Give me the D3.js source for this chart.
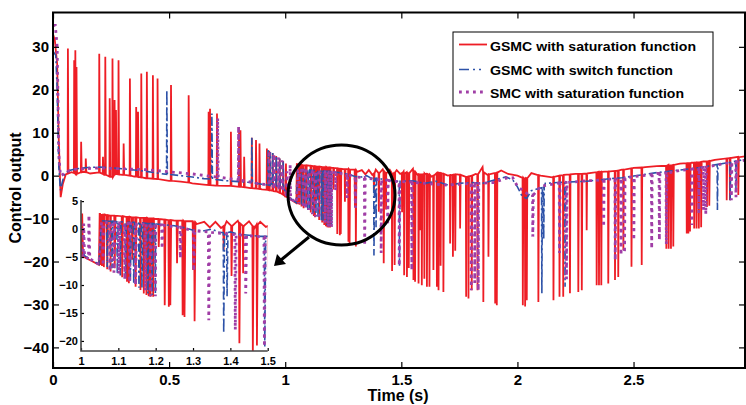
<!DOCTYPE html>
<html><head><meta charset="utf-8">
<script src="https://cdn.jsdelivr.net/npm/d3@7"></script>
<style>body{margin:0;background:#fff}svg{display:block}</style>
</head><body><svg id="c" width="746" height="405"></svg>
<script>
// ---------- data ----------
const xTicks = [0, 0.5, 1, 1.5, 2, 2.5];
const yTicks = [30, 20, 10, 0, -10, -20, -30, -40];
const insetXTicks = [1, 1.1, 1.2, 1.3, 1.4, 1.5];
const insetYTicks = [5, 0, -5, -10, -15, -20];
const seriesNames = ["GSMC with saturation function", "GSMC with switch function", "SMC with saturation function"];
const xLabel = "Time (s)";
const yLabel = "Control output";

// baseline samples [t, value]
const redBase = [[0,33],[0.008,31.5],[0.018,26],[0.025,8],[0.033,-5],[0.042,-2],[0.055,0.3],[0.08,0.8],[0.1,0.4],[0.13,0.9],[0.16,0.5],[0.19,0.7],[0.22,0.2],[0.25,-0.3],[0.27,0.5],[0.3,0.2],[0.35,-0.2],[0.4,-0.6],[0.45,-0.8],[0.5,-1.2],[0.55,-1.4],[0.6,-1.8],[0.65,-2.1],[0.7,-2.3],[0.75,-2.4],[0.8,-2.6],[0.85,-2.9],[0.9,-3.2],[0.95,-3.6],[1.0,-4.9],[1.048,-6.4],[1.05,2.7],[1.08,2.4],[1.12,2.2],[1.16,2.0],[1.2,1.8],[1.25,1.5],[1.29,1.4],[1.31,0.9],[1.33,1.3],[1.345,0.3],[1.36,1.3],[1.375,0.2],[1.39,1.4],[1.405,0.4],[1.42,1.5],[1.435,0.3],[1.45,1.4],[1.465,0.2],[1.48,1.3],[1.495,0.4],[1.51,1.0],[1.53,0.3],[1.55,1.6],[1.57,0.2],[1.6,0.5],[1.63,-0.2],[1.66,0.8],[1.7,0.0],[1.74,0.3],[1.78,-0.4],[1.82,0.4],[1.85,2.0],[1.87,0.2],[1.9,0.6],[1.93,1.2],[1.96,0.4],[2.0,0.0],[2.03,-0.8],[2.06,0.6],[2.1,0.0],[2.15,-0.4],[2.2,0.2],[2.25,0.4],[2.3,0.6],[2.35,0.9],[2.4,1.0],[2.45,1.4],[2.5,1.8],[2.55,2.0],[2.6,2.2],[2.65,2.5],[2.7,2.8],[2.75,3.0],[2.8,3.3],[2.85,3.7],[2.9,4.0],[2.95,4.4],[2.98,4.5]];
// spikes [t, base, tip]
const redSpikes = [[0.063,0.5,29.6],[0.090,0.6,26.9],[0.095,0.5,29.2],[0.100,0.4,25.3],[0.120,0.8,7.9],[0.140,0.8,4.0],[0.198,0.7,28.4],[0.214,0.4,4.4],[0.224,0.2,27.7],[0.243,-0.2,18.0],[0.255,-0.3,27.3],[0.264,0.2,17.6],[0.270,0.4,15.3],[0.281,0.3,26.9],[0.303,0.2,7.5],[0.330,0.0,22.6],[0.357,-0.2,16.0],[0.365,-0.3,14.9],[0.379,-0.4,23.8],[0.403,-0.6,24.2],[0.429,-0.7,23.4],[0.449,-0.8,22.6],[0.507,-1.2,21.1],[0.583,-1.6,18.7],[0.669,-2.2,14.9],[0.675,-2.2,15.6],[0.705,-2.3,14.5],[0.765,-2.4,10.2],[0.800,-2.6,11.0],[0.806,-2.6,10.6],[0.822,-2.7,4.4],[0.855,-2.9,8.8],[0.873,-3.0,8.3],[0.888,-3.1,7.5],[0.92,-3.3,6.3],[0.93,-3.4,5.8],[0.945,-3.5,5.2],[0.96,-3.7,4.6],[0.975,-4.0,4.0],[0.99,-4.4,3.4],[1.002,-4.9,2.8],
[1.051,2.7,-6.4],[1.055,2.6,-6.6],[1.06,2.6,-6.8],[1.069,2.5,-7.2],[1.078,2.4,-7.6],[1.089,2.4,-7.0],[1.109,2.3,-8.6],[1.122,2.2,-9.4],[1.127,2.2,-9.7],[1.136,2.1,-5.5],[1.145,2.1,-10.3],[1.158,2.0,-10.9],[1.167,2.0,-11.5],[1.174,2.0,-11.8],[1.18,1.9,-12.0],[1.185,1.9,-12.1],[1.192,1.9,-12.1],[1.207,1.8,-3.2],[1.223,1.7,-13.6],[1.234,1.6,-13.9],[1.238,1.6,-13.6],[1.256,1.5,-6.1],[1.271,1.5,-15.4],[1.276,1.4,-15.7],[1.299,1.4,-7.3],[1.303,1.2,-16.5],[1.381,0.5,-3.75],[1.402,0.6,-8.4],[1.423,1.0,-20.4],[1.433,0.6,-7.9],[1.459,0.6,-22.2],[1.47,0.8,-20.8],[1.502,0.6,-8.5],
[1.511,0.5,-23.2],[1.523,0.8,-23.6],[1.531,0.6,-21.5],[1.551,1.0,-24.3],[1.558,0.8,-24.7],[1.573,0.3,-25.1],[1.58,0.3,-12.7],[1.587,0.3,-25.5],[1.598,0.4,-24.0],[1.609,0.4,-25.9],[1.62,0.2,-25.9],[1.637,0.0,-22.0],[1.652,0.6,-25.9],[1.659,0.7,-26.7],[1.668,0.6,-21.0],[1.68,0.4,-27.1],[1.709,0.1,-15.8],[1.721,0.2,-18.9],[1.731,0.3,-17.5],[1.752,0.2,-12.3],[1.778,-0.3,-28.2],[1.788,-0.2,-28.6],[1.802,0.0,-26.7],[1.827,0.3,-26.7],[1.852,0.8,-29.4],[1.874,0.3,-18.9],[1.903,0.6,-29.8],[1.91,0.7,-30.2],[2.022,-0.5,-30.2],[2.032,-0.7,-30.5],[2.039,-0.6,-29.0],[2.089,0.1,-29.4],[2.154,-0.3,-29.0],[2.18,0.0,-28.2],[2.196,0.1,-28.2],[2.225,0.3,-27.4],[2.261,0.4,-27.1],[2.276,0.4,-26.7],[2.297,0.5,-12.7],[2.34,0.8,-25.5],[2.35,0.8,-25.5],[2.36,0.9,-25.5],[2.39,1.0,-25.1],[2.419,1.1,-24.3],[2.433,1.2,-23.6],[2.455,1.4,-17.3],[2.49,1.7,-21.2],[2.534,1.9,-20.8],[2.64,2.3,-17.0],[2.65,2.4,-17.0],[2.66,2.4,-17.0],[2.67,2.5,-16.5],[2.728,2.9,-13.5],[2.735,2.9,-13.5],[2.742,2.9,-13.0],[2.76,3.0,-12.3],[2.77,3.1,-12.3],[2.78,3.1,-12.3],[2.79,3.2,-12.0],[2.815,3.3,-7.3],[2.825,3.4,-7.0],[2.9,4.0,-5.7],[2.914,4.1,-5.7],[2.95,4.3,-4.5]];

const blueBase = [[0,29],[0.012,28],[0.018,20],[0.025,2],[0.032,-3.4],[0.04,-1.5],[0.05,0.5],[0.07,1.2],[0.1,1.6],[0.15,1.9],[0.2,2.0],[0.25,1.8],[0.3,1.6],[0.35,1.3],[0.4,1.0],[0.45,0.6],[0.5,0.3],[0.55,0.0],[0.6,-0.3],[0.65,-0.7],[0.7,-0.9],[0.75,-1.2],[0.8,-1.4],[0.85,-1.6],[0.9,-2.0],[0.95,-2.6],[1.0,-3.5],[1.01,-4.8],[1.048,-6.3],[1.055,1.5],[1.1,1.3],[1.15,1.1],[1.2,0.9],[1.25,0.6],[1.28,0.2],[1.3,-0.2],[1.33,-0.3],[1.35,0.0],[1.37,-0.6],[1.4,-0.5],[1.42,-0.9],[1.45,-1.1],[1.48,-1.3],[1.5,-1.3],[1.55,-1.2],[1.6,-1.8],[1.65,-1.3],[1.7,-2.2],[1.75,-1.8],[1.8,-1.6],[1.85,-1.8],[1.9,-1.0],[1.95,-0.3],[1.98,-1.0],[2.0,-2.6],[2.02,-4.8],[2.04,-5.3],[2.06,-3.5],[2.09,-3.0],[2.12,-1.8],[2.2,-1.5],[2.3,-1.3],[2.4,-0.7],[2.45,-0.5],[2.5,-0.1],[2.55,0.3],[2.6,0.7],[2.7,1.3],[2.8,2.0],[2.9,3.0],[2.98,3.8]];
const blueSpikes = [[0.489,0.3,19.9],[0.683,-0.8,14.5],[0.855,-1.6,8.8],[0.925,-2.2,6.0],[0.935,-2.3,5.5],[0.945,-2.4,5.3],[0.96,-2.6,4.6],[0.975,-2.8,4.0],[0.99,-3.0,3.4],
[1.069,1.4,-6.8],[1.082,1.4,-7.0],[1.096,1.3,-8.0],[1.104,1.3,-8.3],[1.118,1.2,-8.8],[1.131,1.2,-9.5],[1.14,1.2,-9.8],[1.154,1.1,-10.5],[1.162,1.1,-10.5],[1.178,1.0,-11.5],[1.189,1.0,-11.8],[1.198,0.9,-11.5],[1.381,-0.6,-18.6],[1.39,-0.6,-12.0],[1.491,-1.3,-21.0],
[2.104,-2.8,-27.4],[2.112,-2.6,-14.8],[2.204,-1.5,-25.9],[2.86,2.6,-8.0],[2.915,3.1,-5.7],[2.94,3.4,-3.5]];

const purpleBase = [[0,35],[0.01,35],[0.018,30],[0.025,5],[0.032,0.0],[0.04,0.2],[0.06,1.0],[0.1,1.5],[0.2,1.8],[0.3,1.6],[0.4,1.4],[0.5,0.9],[0.6,0.4],[0.7,-0.3],[0.8,-1.0],[0.9,-2.0],[1.0,-3.5],[1.01,-4.9],[1.048,-6.3],[1.055,1.2],[1.1,1.1],[1.2,0.8],[1.25,0.4],[1.3,-0.3],[1.35,-0.6],[1.4,-0.9],[1.45,-1.2],[1.5,-1.4],[1.6,-1.8],[1.7,-2.2],[1.8,-1.8],[1.9,-1.6],[1.95,-0.6],[1.98,-0.5],[2.0,-2.5],[2.05,-4.5],[2.1,-2.5],[2.2,-1.5],[2.3,-1.2],[2.4,-0.8],[2.5,-0.2],[2.6,0.5],[2.7,1.2],[2.8,1.9],[2.9,2.9],[2.98,3.6]];
const purpleSpikes = [[0.708,-0.3,13.4],[0.798,-1.0,11.5],[0.93,-2.1,5.8],[0.95,-2.5,5.0],[0.97,-2.8,4.3],[0.985,-2.9,3.6],
[1.006,-4.9,1.0],[1.02,-5.3,2.5],[1.058,1.2,-6.5],[1.076,1.2,-7.5],[1.087,1.1,-7.8],[1.1,1.1,-8.0],[1.116,1.0,-9.0],[1.129,1.0,-9.5],[1.145,0.9,-10.0],[1.171,0.9,-11.0],[1.185,0.8,-12.0],[1.198,0.8,-12.0],[1.216,0.7,-3.5],[1.265,0.3,-5.2],[1.301,-0.3,-7.5],[1.341,-0.5,-16.3],[1.412,-1.0,-18.0],[1.44,-1.1,-11.5],[1.49,-1.4,-21.0],
[1.544,-1.5,-22.0],[1.80,-1.8,-26.7],[1.815,-1.8,-25.0],[1.83,-1.8,-26.7],[2.065,-4.5,-14.2],[2.18,-1.7,-18.0],[2.21,-1.6,-24.1],[2.37,-1.0,-11.9],[2.42,-0.8,-19.7],[2.445,-0.7,-18.5],[2.46,-0.6,-18.0],[2.5,-0.2,-15.0],[2.577,0.2,-17.0],[2.61,0.5,-15.0],[2.64,0.6,-16.0],[2.75,1.5,-11.5],[2.78,1.7,-8.7],[2.8,1.9,-8.0],[2.81,2.0,-9.0],[2.92,3.0,-5.7],[2.94,3.2,-5.0]];

// ---------- rendering ----------
const svg = d3.select("#c");
const FONT = "'Liberation Sans', Arial, Helvetica, sans-serif";

function buildPoints(base, spikes) {
  const pts = base.map(d => ({t: d[0], v: d[1]}));
  spikes.forEach(s => {
    pts.push({t: s[0], v: s[1]}, {t: s[0] + 0.0012, v: s[2]}, {t: s[0] + 0.0035, v: s[1]});
  });
  pts.sort((a, b) => a.t - b.t);
  return pts;
}
const series = [
  {name: seriesNames[0], pts: buildPoints(redBase, redSpikes), color: "#ee1d25", width: 1.8, dash: null},
  {name: seriesNames[1], pts: buildPoints(blueBase, blueSpikes), color: "#2d52a8", width: 1.6, dash: "8,3,2,3"},
  {name: seriesNames[2], pts: buildPoints(purpleBase, purpleSpikes), color: "#a03ea6", width: 2.8, dash: "2.8,4.2"}
];

// main axes
const L = 53, R = 745, T = 12.5, B = 368;
const x = d3.scaleLinear().domain([0, 2.98]).range([L, R]);
const y = d3.scaleLinear().domain([-44.8, 38]).range([B, T]);

svg.append("defs").append("clipPath").attr("id", "mainclip")
  .append("rect").attr("x", L).attr("y", T).attr("width", R - L).attr("height", B - T);
svg.select("defs").append("clipPath").attr("id", "insetclip")
  .append("rect").attr("id", "icr");

const gData = svg.append("g").attr("clip-path", "url(#mainclip)");
const line = d3.line().x(d => x(d.t)).y(d => y(d.v));
series.forEach(s => {
  gData.append("path").attr("d", line(s.pts)).attr("fill", "none")
    .attr("stroke", s.color).attr("stroke-width", s.width)
    .attr("stroke-dasharray", s.dash).attr("stroke-linejoin", "miter");
});

function styleAxis(g, fs) {
  g.select(".domain").remove();
  g.selectAll("line").attr("stroke", "#000").attr("stroke-width", 1.2);
  g.selectAll("text").attr("font-family", FONT).attr("font-weight", "bold")
    .attr("font-size", fs).attr("fill", "#000");
}
styleAxis(svg.append("g").attr("transform", `translate(${L},0)`)
  .call(d3.axisLeft(y).tickValues(yTicks).tickSizeInner(-6).tickSizeOuter(0).tickPadding(4)), 15);
styleAxis(svg.append("g").attr("transform", `translate(${R},0)`)
  .call(d3.axisRight(y).tickValues(yTicks).tickSizeInner(-6).tickSizeOuter(0).tickFormat("")), 15);
styleAxis(svg.append("g").attr("transform", `translate(0,${B})`)
  .call(d3.axisBottom(x).tickValues(xTicks).tickSizeInner(-6).tickSizeOuter(0).tickPadding(6).tickFormat(d3.format("~g"))), 15);
styleAxis(svg.append("g").attr("transform", `translate(0,${T})`)
  .call(d3.axisTop(x).tickValues(xTicks).tickSizeInner(-6).tickSizeOuter(0).tickFormat("")), 15);

svg.append("rect").attr("x", L).attr("y", T).attr("width", R - L).attr("height", B - T)
  .attr("fill", "none").attr("stroke", "#000").attr("stroke-width", 2);

// axis titles
svg.append("text").attr("x", 398).attr("y", 401).attr("text-anchor", "middle")
  .attr("font-family", FONT).attr("font-weight", "bold").attr("font-size", 16).text(xLabel);
svg.append("text").attr("transform", "translate(21,188) rotate(-90)").attr("text-anchor", "middle")
  .attr("font-family", FONT).attr("font-weight", "bold").attr("font-size", 16).text(yLabel);

// inset
const iL = 81, iR = 267.7, iT = 200, iB = 351;
const xi = d3.scaleLinear().domain([1, 1.5]).range([iL, iR]);
const yi = d3.scaleLinear().domain([-21.8, 5.2]).range([iB, iT]);
svg.select("#icr").attr("x", iL).attr("y", iT).attr("width", iR - iL).attr("height", iB - iT);
svg.append("rect").attr("x", iL).attr("y", iT).attr("width", iR - iL).attr("height", iB - iT).attr("fill", "#fff");
const gInset = svg.append("g").attr("clip-path", "url(#insetclip)");
const iline = d3.line().x(d => xi(d.t)).y(d => yi(d.v));
series.forEach(s => {
  gInset.append("path").attr("d", iline(s.pts.filter(d => d.t >= 0.98 && d.t <= 1.52)))
    .attr("fill", "none").attr("stroke", s.color).attr("stroke-width", s.width)
    .attr("stroke-dasharray", s.dash);
});
const ia1 = svg.append("g").attr("transform", `translate(${iL},0)`)
  .call(d3.axisLeft(yi).tickValues(insetYTicks).tickSizeInner(-3).tickSizeOuter(0).tickPadding(3));
styleAxis(ia1, 11);
const ia2 = svg.append("g").attr("transform", `translate(0,${iB})`)
  .call(d3.axisBottom(xi).tickValues(insetXTicks).tickSizeInner(-3).tickSizeOuter(0).tickPadding(6).tickFormat(d3.format("~g")));
styleAxis(ia2, 11);
svg.append("path").attr("d", `M${iL},${iT}V${iB}H${iR}`).attr("fill", "none")
  .attr("stroke", "#444").attr("stroke-width", 1.6);

// annotation: ellipse and arrow
svg.append("ellipse").attr("cx", 341.5).attr("cy", 195).attr("rx", 53.5).attr("ry", 50)
  .attr("fill", "none").attr("stroke", "#000").attr("stroke-width", 3);
svg.append("line").attr("x1", 309).attr("y1", 237).attr("x2", 281).attr("y2", 260)
  .attr("stroke", "#000").attr("stroke-width", 3);
svg.append("path").attr("d", "M274,266 L277,254 L286,264 Z").attr("fill", "#000");

// legend
const lg = svg.append("g");
lg.append("rect").attr("x", 453).attr("y", 32).attr("width", 260).attr("height", 74)
  .attr("fill", "#fff").attr("stroke", "#000").attr("stroke-width", 1);
const legY = [44.5, 69.5, 92];
const legText = [50.5, 75.3, 97.6];
const legW = [206, 183, 194];
series.forEach((s, i) => {
  lg.append("line").attr("x1", 459).attr("x2", 487).attr("y1", legY[i]).attr("y2", legY[i])
    .attr("stroke", s.color).attr("stroke-width", s.width)
    .attr("stroke-dasharray", i === 1 ? "10,4,2,4,2,6" : s.dash);
  lg.append("text").attr("x", 490).attr("y", legText[i]).attr("font-family", FONT)
    .attr("font-weight", "bold").attr("font-size", 13.5)
    .attr("textLength", legW[i]).attr("lengthAdjust", "spacingAndGlyphs").text(s.name);
});
</script>
</body></html>
